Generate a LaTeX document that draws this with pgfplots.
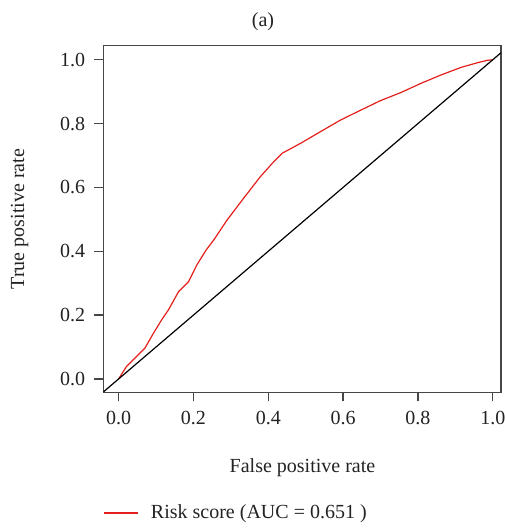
\documentclass[border=0pt]{standalone}
\usepackage{fontspec}
\setmainfont{Liberation Serif}
\usepackage{pgfplots}
\pgfplotsset{compat=1.18}
\definecolor{rocred}{RGB}{228,32,28}
\definecolor{framegray}{RGB}{70,70,70}
\definecolor{textgray}{RGB}{35,35,35}

\begin{document}
\fontsize{20}{23}\selectfont
\begin{tikzpicture}[x=1pt,y=1pt]
\begin{axis}[
  at={(103.3pt,-392.3pt)}, anchor=south west,
  scale only axis, width=397.7pt, height=346.6pt,
  xmin=-0.041, xmax=1.022, ymin=-0.042, ymax=1.044,
  xtick={0,0.2,0.4,0.6,0.8,1.0},
  ytick={0,0.2,0.4,0.6,0.8,1.0},
  tick align=outside, tick pos=left,
  major tick length=9pt,
  axis line style={framegray, line width=1.3pt},
  tick style={framegray, line width=1.3pt},
  tick label style={font=\fontsize{20}{23}\selectfont, text=textgray, inner sep=0pt},
  xticklabel style={anchor=north, yshift=-10pt},
  yticklabel style={anchor=east, xshift=-9pt},
  /pgf/number format/fixed,
  /pgf/number format/fixed zerofill,
  /pgf/number format/precision=1,
  /pgf/number format/assume math mode=true,
  legend style={at={(axis description cs:0,-0.348)}, anchor=west,
    draw=none, fill=none, inner sep=0pt, outer sep=0pt,
    font=\fontsize{20}{23}\selectfont, text=textgray,
    nodes={inner sep=0pt},
    /tikz/every odd column/.append style={column sep=12.5pt}},
  legend cell align=left,
  legend image code/.code={\draw[#1] (0pt,0pt) -- (34pt,0pt);},
]
\addplot[rocred, line width=1.2pt, mark=none] coordinates {
  (0,0)(0.021,0.039)(0.039,0.060)(0.070,0.096)(0.093,0.143)
  (0.115,0.185)(0.133,0.216)(0.160,0.273)(0.187,0.305)(0.209,0.357)
  (0.234,0.404)(0.254,0.435)(0.290,0.498)(0.334,0.566)(0.379,0.634)
  (0.415,0.681)(0.437,0.707)(0.486,0.738)(0.540,0.775)(0.593,0.811)
  (0.647,0.842)(0.700,0.872)(0.754,0.897)(0.808,0.926)(0.861,0.952)
  (0.915,0.976)(0.960,0.991)(0.985,0.998)(1.0,1.0)
};
\addlegendentry{Risk score (AUC = 0.651 )}
\addplot[black, line width=1.2pt, mark=none, forget plot] coordinates {
  (-0.041,-0.041)(1.022,1.022)
};
\end{axis}
\node[anchor=base, text=textgray] at (263,-26) {(a)};
\node[anchor=base, text=textgray] at (302.5,-472) {False positive rate};
\node[anchor=base, rotate=90, text=textgray] at (24,-219) {True positive rate};
\pgfresetboundingbox
\useasboundingbox (0,0) rectangle (505,-528);
\end{tikzpicture}
\end{document}
